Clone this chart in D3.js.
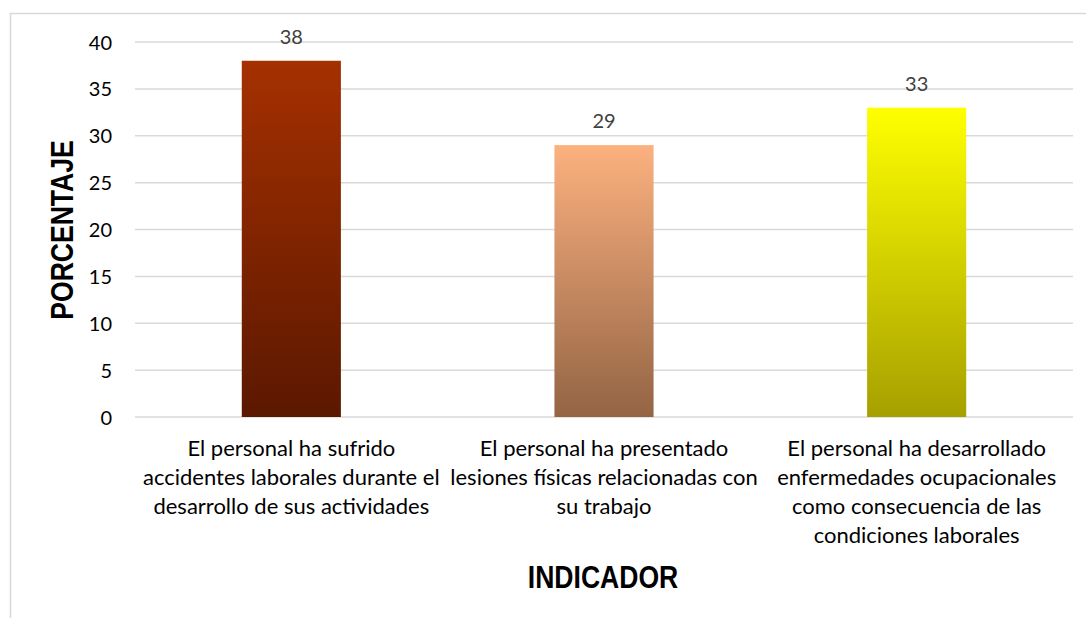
<!DOCTYPE html>
<html>
<head>
<meta charset="utf-8">
<script src="https://cdn.jsdelivr.net/npm/d3@7"></script>
<style>
  body { margin: 0; background: #fff; }
  svg { display: block; }
</style>
</head>
<body>
<div id="chart"></div>
<script>
// datos del grafico
var categorias = ["cat1", "cat2", "cat3"];
var etiquetas = [
  ["El personal ha sufrido", "accidentes laborales durante el", "desarrollo de sus actividades"],
  ["El personal ha presentado", "lesiones físicas relacionadas con", "su trabajo"],
  ["El personal ha desarrollado", "enfermedades ocupacionales", "como consecuencia de las", "condiciones laborales"]
];
var valores = [38, 29, 33];
var ticksY = [0, 5, 10, 15, 20, 25, 30, 35, 40];
var coloresArriba = ["#a53000", "#fcb17f", "#ffff00"];
var coloresAbajo = ["#5b1800", "#936444", "#a6a000"];

var fuente = "Lato, 'Open Sans', sans-serif";
var width = 1086, height = 618;
var svg = d3.select("#chart").append("svg")
    .attr("width", width)
    .attr("height", height);

// borde del area del grafico
svg.append("rect")
    .attr("x", 10.5).attr("y", 13.5)
    .attr("width", 1100).attr("height", 620)
    .attr("fill", "none")
    .attr("stroke", "#d9d9d9")
    .attr("stroke-width", 1.5);

var x = d3.scaleBand()
    .domain(categorias)
    .range([135, 1073])
    .paddingInner(0.683)
    .paddingOuter(0.683 / 2);

var y = d3.scaleLinear()
    .domain([0, 40])
    .range([417, 42]);

// gradientes
var defs = svg.append("defs");
categorias.forEach(function(c, i) {
  var g = defs.append("linearGradient")
      .attr("id", "grad" + i)
      .attr("x1", 0).attr("y1", 0).attr("x2", 0).attr("y2", 1);
  g.append("stop").attr("offset", "0%").attr("stop-color", coloresArriba[i]);
  g.append("stop").attr("offset", "100%").attr("stop-color", coloresAbajo[i]);
});

// lineas de cuadricula
svg.append("g")
    .selectAll("line")
    .data(ticksY)
    .enter().append("line")
    .attr("x1", 135).attr("x2", 1073)
    .attr("y1", function(d) { return y(d); })
    .attr("y2", function(d) { return y(d); })
    .attr("stroke", "#d9d9d9")
    .attr("stroke-width", 1.5);

// eje y
var ejeY = svg.append("g")
    .attr("transform", "translate(112,0)")
    .call(d3.axisLeft(y).tickValues(ticksY).tickSize(0).tickPadding(0));
ejeY.select(".domain").remove();
ejeY.selectAll("text")
    .style("font-family", fuente)
    .style("font-size", "20px")
    .attr("fill", "#000")
    .attr("dy", "0.35em");

// barras
svg.append("g")
    .selectAll("rect")
    .data(valores)
    .enter().append("rect")
    .attr("x", function(d, i) { return x(categorias[i]); })
    .attr("y", function(d) { return y(d); })
    .attr("width", x.bandwidth())
    .attr("height", function(d) { return y(0) - y(d); })
    .attr("fill", function(d, i) { return "url(#grad" + i + ")"; });

// etiquetas de datos
svg.append("g")
    .selectAll("text")
    .data(valores)
    .enter().append("text")
    .attr("x", function(d, i) { return x(categorias[i]) + x.bandwidth() / 2; })
    .attr("y", function(d) { return y(d) - 17; })
    .attr("text-anchor", "middle")
    .style("font-family", fuente)
    .style("font-size", "20px")
    .attr("fill", "#404040")
    .text(function(d) { return d; });

// etiquetas de categorias
var cats = svg.append("g")
    .selectAll("text")
    .data(etiquetas)
    .enter().append("text")
    .attr("text-anchor", "middle")
    .style("font-family", fuente)
    .style("font-size", "22px")
    .attr("fill", "#000");
cats.each(function(lineas, i) {
  var t = d3.select(this);
  lineas.forEach(function(l, j) {
    t.append("tspan")
      .attr("x", x(categorias[i]) + x.bandwidth() / 2)
      .attr("y", 456 + j * 29)
      .text(l);
  });
});

// titulos de ejes (fuente estrecha simulada con scale)
svg.append("text")
    .attr("transform", "translate(73,230) rotate(-90) scale(0.83,1)")
    .attr("text-anchor", "middle")
    .style("font-family", "'Liberation Sans', Arial, sans-serif")
    .style("font-weight", "bold")
    .style("font-size", "32px")
    .text("PORCENTAJE");

svg.append("text")
    .attr("transform", "translate(603,588) scale(0.83,1)")
    .attr("text-anchor", "middle")
    .style("font-family", "'Liberation Sans', Arial, sans-serif")
    .style("font-weight", "bold")
    .style("font-size", "32px")
    .text("INDICADOR");
</script>
</body>
</html>
